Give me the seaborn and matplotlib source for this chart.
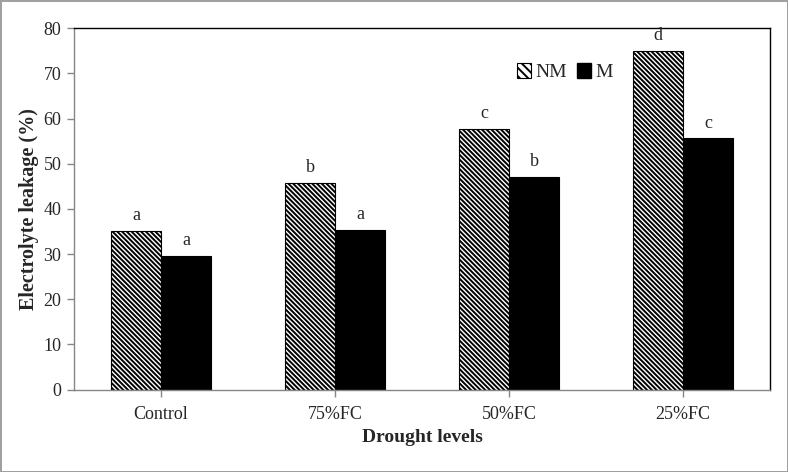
import pandas as pd
import matplotlib
matplotlib.use('Agg')
import matplotlib.pyplot as plt
import seaborn as sns
from matplotlib.patches import Patch

# 데이터
levels = ['Control', '75%FC', '50%FC', '25%FC']
nm_values = [35.2, 45.8, 57.7, 75.0]
m_values = [29.5, 35.4, 47.1, 55.6]
nm_letters = ['a', 'b', 'c', 'd']
m_letters = ['a', 'a', 'b', 'c']
y_ticks = [0, 10, 20, 30, 40, 50, 60, 70, 80]

df = pd.DataFrame({
    'level': levels * 2,
    'treat': ['NM'] * len(levels) + ['M'] * len(levels),
    'value': nm_values + m_values,
})

sns.set_style('white')
plt.rcParams['font.family'] = ['Liberation Serif', 'DejaVu Serif']
plt.rcParams['hatch.linewidth'] = 1.4
plt.rcParams['hatch.color'] = 'black'

fig = plt.figure(figsize=(7.88, 4.72), dpi=100, linewidth=2, edgecolor='#a0a0a0')
ax = fig.add_axes([0.0939, 0.1747, 0.8832, 0.7653])

sns.barplot(data=df, x='level', y='value', hue='treat', order=levels,
            hue_order=['NM', 'M'], palette={'NM': 'white', 'M': 'black'},
            width=0.575, edgecolor='black', linewidth=0.8, ax=ax)

hatch = '\\' * 7
for bar in ax.containers[0]:
    bar.set_hatch(hatch)
    bar.set_edgecolor('black')

# 유의성 문자
ax.bar_label(ax.containers[0], labels=nm_letters, padding=5, fontsize=13)
ax.bar_label(ax.containers[1], labels=m_letters, padding=5, fontsize=13)

ax.set_ylim(0, 80)
ax.set_yticks(y_ticks)
ax.set_xlim(-0.5, 3.5)

for side in ['left', 'bottom']:
    ax.spines[side].set_color('#868686')
    ax.spines[side].set_linewidth(1.0)
for side in ['top', 'right']:
    ax.spines[side].set_color('black')
    ax.spines[side].set_linewidth(1.0)

ax.tick_params(axis='both', which='both', direction='out', color='#868686',
               length=5, width=1, labelsize=13, left=True, bottom=True)
ax.tick_params(axis='x', pad=7)
ax.tick_params(axis='y', pad=4)

ax.set_xlabel('Drought levels', fontsize=14, fontweight='bold', labelpad=4)
ax.set_ylabel('Electrolyte leakage (%)', fontsize=14.5, fontweight='bold', labelpad=3)

ax.get_legend().remove()
handles = [Patch(facecolor='white', edgecolor='black', hatch='\\\\\\\\', linewidth=0.8),
           Patch(facecolor='black', edgecolor='black')]
ax.legend(handles=handles, labels=['NM', 'M'], ncol=2, frameon=False,
          fontsize=14, handlelength=0.75, handleheight=0.75, handletextpad=0.2,
          columnspacing=0.5, loc='center', bbox_to_anchor=(0.705, 0.878))

fig.savefig('out.png', dpi=100, edgecolor=fig.get_edgecolor())
